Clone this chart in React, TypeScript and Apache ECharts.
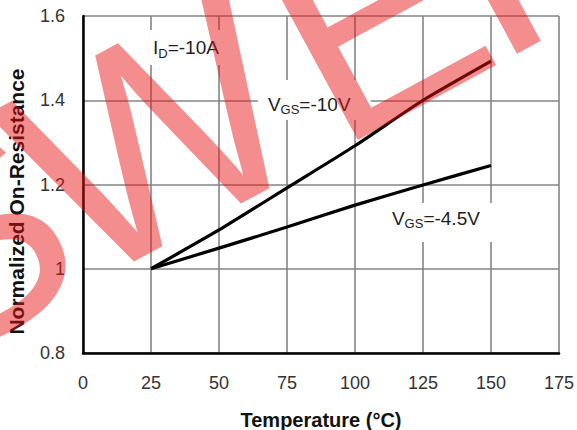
import React, { useEffect, useRef } from "react";
import * as echarts from "echarts";

// ---- data ----
const temperatures = [25, 50, 75, 100, 125, 150];
const vgs10V = [1.0, 1.092, 1.192, 1.292, 1.4, 1.493];
const vgs45V = [1.0, 1.049, 1.099, 1.151, 1.199, 1.245];
const seriesNames = ["VGS=-10V", "VGS=-4.5V"];
const xTitle = "Temperature (°C)";
const yTitle = "Normalized On-Resistance";
const annotationTexts = ["{m|I}{s|D}{m|=-10A}", "{m|V}{s|GS}{m|=-10V}", "{m|V}{s|GS}{m|=-4.5V}"];
// anchor (top-left of label box) in data coordinates [temperature, resistance]
const annotationAnchors = [
  [22.8, 1.567],
  [64.3, 1.448],
  [109.9, 1.156],
];
const watermarkLetters = ["S", "W", "E", "I"];

const FONT = '"Liberation Sans", Arial, Helvetica, sans-serif';

export default function App() {
  const ref = useRef<HTMLDivElement>(null);

  useEffect(() => {
    const chart = echarts.init(ref.current!, null, { renderer: "svg" });
    chart.setOption({
      animation: false,
      backgroundColor: "#ffffff",
      grid: { left: 83, right: 18, top: 16, bottom: 77, containLabel: false, outerBoundsMode: "none" },
      xAxis: {
        type: "value",
        min: 0,
        max: 175,
        interval: 25,
        name: xTitle,
        nameLocation: "middle",
        nameGap: 57,
        nameTextStyle: { fontFamily: FONT, fontSize: 20, fontWeight: "bold", color: "#111" },
        axisLine: { show: true, onZero: false, lineStyle: { color: "#000", width: 2.5 } },
        axisTick: { show: false },
        axisLabel: { fontFamily: FONT, fontSize: 18, color: "#333", margin: 21 },
        splitLine: { show: true, lineStyle: { color: "#858585", width: 1.6 } },
      },
      yAxis: {
        type: "value",
        min: 0.8,
        max: 1.6,
        interval: 0.2,
        name: yTitle,
        nameLocation: "middle",
        nameGap: 56,
        nameTextStyle: {
          fontFamily: FONT,
          fontSize: 21,
          fontWeight: "bold",
          color: "#111",
          padding: [0, 34, 0, 0],
        },
        axisLine: { show: true, onZero: false, lineStyle: { color: "#000", width: 2.5 } },
        axisTick: { show: false },
        axisLabel: { fontFamily: FONT, fontSize: 18, color: "#333", margin: 18 },
        splitLine: { show: true, lineStyle: { color: "#858585", width: 1.6 } },
      },
      series: [
        {
          name: seriesNames[0],
          type: "line",
          data: temperatures.map((t, i) => [t, vgs10V[i]]),
          symbol: "none",
          smooth: 0.2,
          lineStyle: { color: "#000", width: 3.2 },
          z: 5,
        },
        {
          name: seriesNames[1],
          type: "line",
          data: temperatures.map((t, i) => [t, vgs45V[i]]),
          symbol: "none",
          smooth: 0.2,
          lineStyle: { color: "#000", width: 3.2 },
          z: 5,
        },
      ],
    });

    const paddings = [
      [6, 6, 5, 8],
      [12, 20, 4, 10],
      [3, 16, 12, 10],
    ];
    const rich = {
      m: { fontFamily: FONT, fontSize: 19, fill: "#222", color: "#222", lineHeight: 24, verticalAlign: "middle" },
      s: { fontFamily: FONT, fontSize: 13, fill: "#222", color: "#222", lineHeight: 14, verticalAlign: "bottom" },
    };
    const labels = annotationTexts.map((txt, i) => {
      const p = chart.convertToPixel({ gridIndex: 0 }, annotationAnchors[i]) as number[];
      return {
        type: "text",
        id: "ann" + i,
        z: 50,
        silent: true,
        style: {
          text: txt,
          x: p[0],
          y: p[1],
          rich,
          fontFamily: FONT,
          fontSize: 19,
          fill: "#222",
          align: "left",
          verticalAlign: "top",
          textAlign: "left",
          textVerticalAlign: "top",
          backgroundColor: "#fff",
          padding: paddings[i],
        },
      };
    });

    const F = 290;
    const letterOffsets = [-490, -314, -23, 155];
    const watermark = {
      type: "group",
      id: "wm",
      x: 357,
      y: 140,
      rotation: (28.5 * Math.PI) / 180,
      z: 100,
      silent: true,
      children: watermarkLetters.map((ch, i) => ({
        type: "text",
        z: 100,
        silent: true,
        style: {
          text: ch,
          x: letterOffsets[i],
          y: -0.3465 * F,
          fontFamily: FONT,
          fontSize: F,
          fill: "rgba(232,18,18,0.48)",
          align: "left",
          verticalAlign: "middle",
          textAlign: "left",
          textVerticalAlign: "middle",
        },
      })),
    };

    chart.setOption({ graphic: [...labels, watermark] });

    return () => chart.dispose();
  }, []);

  return (
    <div
      ref={ref}
      style={{ position: "absolute", left: 0, top: 0, width: 577, height: 430 }}
    />
  );
}
